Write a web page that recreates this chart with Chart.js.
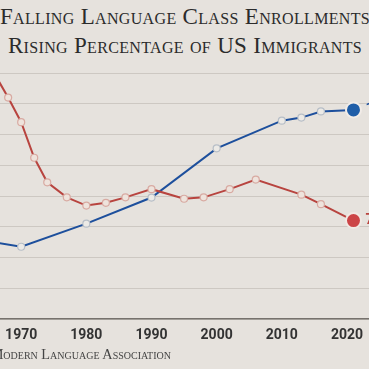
<!DOCTYPE html>
<html>
<head>
<meta charset="utf-8">
<script src="https://cdn.jsdelivr.net/npm/chart.js@4"></script>
<style>
  html, body { margin: 0; padding: 0; }
  body { width: 369px; height: 369px; overflow: hidden; position: relative; background: #e6e2dd; }
  #title {
    position: absolute; left: -20px; top: 2px; width: 410px; text-align: center;
    font-family: "Liberation Serif", serif; font-variant: small-caps; font-size: 23px;
    line-height: 29px; color: #2b2b2b; white-space: nowrap; letter-spacing: 0.33px;
  }
  #source {
    position: absolute; right: 198px; top: 346px; white-space: nowrap;
    font-family: "Liberation Serif", serif; font-variant: small-caps; font-size: 14.3px; color: #444;
  }
  canvas { position: absolute; left: 0; top: 0; }
</style>
</head>
<body>
<div id="title">Falling Language Class Enrollments<br>Rising Percentage of US Immigrants</div>
<canvas id="chart" width="369" height="369"></canvas>
<div id="source">Source: Modern Language Association</div>
<script>
// language enrollments per 100 college students (MLA survey years)
const langYears = [1965, 1968, 1970, 1972, 1974, 1977, 1980, 1983, 1986, 1990, 1995, 1998, 2002, 2006, 2013, 2016, 2021];
const langEnroll = [18.7, 16.2, 14.4, 11.8, 10.0, 8.9, 8.3, 8.5, 8.9, 9.5, 8.8, 8.9, 9.5, 10.2, 9.1, 8.4, 7.2];

// foreign-born share of US population, %
const immYears = [1960, 1970, 1980, 1990, 2000, 2010, 2013, 2016, 2021];
const immPct = [5.4, 4.7, 6.2, 7.9, 11.1, 12.9, 13.1, 13.5, 13.6];

const xTickYears = [1970, 1980, 1990, 2000, 2010, 2020];

const red = "#b8443f";
const redDot = "#cc4547";
const blue = "#1d4f9c";
const blueDot = "#1f5ea8";

const toPoints = (xs, ys) => xs.map((x, i) => ({ x: x, y: ys[i] }));

const lastBig = (n, small, big) => (ctx) => (ctx.dataIndex === n - 1 ? big : small);

// labels next to the final points (mostly cut off by the frame)
const endLabels = {
  id: "endLabels",
  afterDatasetsDraw(chart) {
    const ctx = chart.ctx;
    ctx.save();
    ctx.font = "bold 14px Roboto";
    ctx.textBaseline = "middle";
    chart.data.datasets.forEach((ds, i) => {
      const meta = chart.getDatasetMeta(i);
      const pt = meta.data[meta.data.length - 1];
      const v = ds.data[ds.data.length - 1].y;
      ctx.fillStyle = ds.borderColor;
      ctx.fillText(ds.yAxisID === "yImm" ? v + "%" : String(v), pt.x + 12, pt.y);
    });
    ctx.restore();
  },
};

new Chart(document.getElementById("chart"), {
  type: "line",
  data: {
    datasets: [
      {
        label: "Language enrollments per 100 students",
        data: toPoints(langYears, langEnroll),
        yAxisID: "yLang",
        borderColor: red,
        borderWidth: 2,
        tension: 0,
        pointRadius: lastBig(langYears.length, 3.5, 7.5),
        pointBackgroundColor: lastBig(langYears.length, "#eee3dc", redDot),
        pointBorderColor: lastBig(langYears.length, "#d8aaa2", "#f1e9e4"),
        pointBorderWidth: lastBig(langYears.length, 1.2, 2),
      },
      {
        label: "Immigrant share of population",
        data: toPoints(immYears, immPct),
        yAxisID: "yImm",
        borderColor: blue,
        borderWidth: 2,
        tension: 0,
        pointRadius: lastBig(immYears.length, 3.5, 7.5),
        pointBackgroundColor: lastBig(immYears.length, "#eceae6", blueDot),
        pointBorderColor: lastBig(immYears.length, "#b7bec7", "#f1ece8"),
        pointBorderWidth: lastBig(immYears.length, 1.2, 2),
      },
    ],
  },
  plugins: [endLabels],
  options: {
    responsive: false,
    animation: false,
    layout: { autoPadding: false, padding: { top: 73, left: 0, right: 0, bottom: 0 } },
    plugins: { legend: { display: false }, tooltip: { enabled: false } },
    scales: {
      x: {
        type: "linear",
        min: 1966.75,
        max: 2023.38,
        afterBuildTicks: (scale) => {
          scale.ticks = xTickYears.map((v) => ({ value: v }));
        },
        afterFit: (scale) => {
          scale.height = 50;
          scale.paddingLeft = 0;
          scale.paddingRight = 0;
        },
        grid: { display: false, drawTicks: false },
        border: { display: true, color: "#77726d", width: 1.5 },
        ticks: {
          padding: 8,
          maxRotation: 0,
          color: "#333",
          font: { family: "Roboto", size: 14, weight: "bold" },
          callback: (v) => String(v),
        },
      },
      yImm: {
        position: "left",
        display: true,
        min: 0,
        max: 16,
        ticks: { display: false, stepSize: 2 },
        afterFit: (scale) => {
          scale.width = 0;
        },
        grid: { color: "#cdc8c2", lineWidth: 1, drawTicks: false },
        border: { display: false },
      },
      yLang: {
        position: "right",
        display: false,
        min: 0,
        max: 18,
      },
    },
  },
});
</script>
</body>
</html>
